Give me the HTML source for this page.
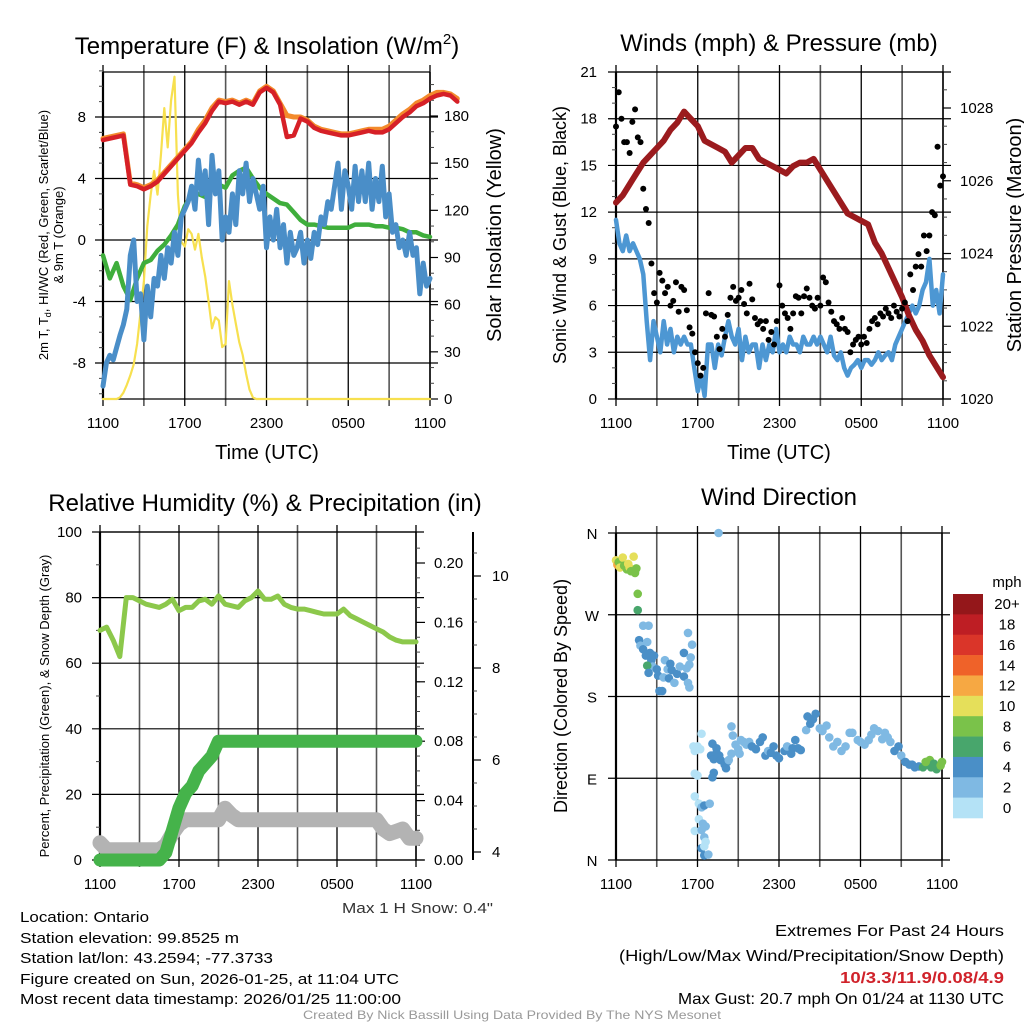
<!DOCTYPE html>
<html><head><meta charset="utf-8"><style>
html,body{margin:0;padding:0;background:#fff;}
svg{display:block;font-family:"Liberation Sans",sans-serif;}
</style></head><body>
<svg id="svg" width="1024" height="1024" viewBox="0 0 1024 1024" xmlns="http://www.w3.org/2000/svg"></svg>
<script>
// ---------- DATA ----------
const timeTicks = ["1100","1700","2300","0500","1100"];
// Panel 1 (30-min steps, 0..24h)
const temp2m = [6.5,6.6,6.7,6.8,3.6,3.5,3.3,3.5,3.8,4.3,4.8,5.3,5.8,6.3,7.0,7.6,8.4,9.0,8.9,9.0,8.8,9.0,8.8,9.6,9.9,9.6,8.8,6.7,6.8,7.9,7.7,7.3,7.1,7.0,6.9,6.8,6.8,6.9,7.0,7.1,7.0,7.0,7.2,7.6,8.0,8.3,8.7,8.9,9.2,9.4,9.5,9.4,9.0];
const temp9m = [6.6,6.7,6.8,6.9,3.7,3.6,3.4,3.6,3.9,4.4,4.9,5.4,5.9,6.4,7.2,7.8,8.6,9.1,9.0,9.1,8.9,9.1,8.9,9.7,10.0,9.7,8.9,8.1,8.0,8.0,7.8,7.4,7.2,7.1,7.0,6.9,6.9,7.0,7.1,7.2,7.2,7.2,7.4,7.8,8.2,8.5,8.9,9.1,9.4,9.6,9.6,9.5,9.2];
const dewpoint = [-1,-2.5,-1.5,-3,-3.9,-2.5,-1.5,-1.3,-0.7,-0.3,0.3,1.0,2.2,2.9,3.0,2.8,3.5,3.6,3.4,4.2,4.5,4.7,4.0,3.4,3.0,2.7,2.4,2.3,1.8,1.3,1.0,1.0,0.9,0.8,0.8,0.8,0.8,1.0,1.0,1.0,0.9,0.9,0.8,0.8,0.7,0.5,0.5,0.3,0.2];
// 15-min steps
const windChill = [-9.5,-8,-7.5,-7.8,-7,-6.2,-5.5,-4.5,-1,0,-4,-3.5,-6.5,-3,-5,-2.5,-3,-1,-2.5,-0.5,-1.5,0.5,-1,1.5,2.0,2.5,3.5,2.0,5.2,3,4.5,1,5.5,3,4.5,0,1.5,0.5,3.0,1.0,4.5,3.0,5.0,2.5,4.0,3.0,2.0,3.5,-0.5,1.5,0,2.0,-0.5,1.0,-1.5,0.5,-1.0,-0.5,0.5,-1.5,0,-1.2,0.5,-0.3,1.5,1.0,2.5,2.0,3.5,5.0,2.0,4.5,3.5,2.0,4.8,2.5,4.5,2.5,5.0,2.0,4.0,2.5,4.8,1.5,3.0,0.5,1.0,-0.5,0,-1.0,0.5,-1.0,-0.5,-3.5,-1.5,-3.0,-2.5];
const solar = [0,0,0,0,0,1,4,9,15,22,35,55,75,110,130,145,130,155,185,160,190,205,130,100,97,108,105,95,105,90,78,62,45,52,50,33,35,75,60,48,36,28,16,6,1,0,0,0,0,0,0,0,0,0,0,0,0,0,0,0,0,0,0,0,0,0,0,0,0,0,0,0,0,0,0,0,0,0,0,0,0,0,0,0,0,0,0,0,0,0,0,0,0,0,0,0,0];
// Panel 2
const sonicWind = [11.5,10,9.5,10.5,9.5,10,9.5,9,8,5,2.5,5,4,3,5,3.5,4.5,3,4,3.5,4,3.5,3.5,2,0.5,1.5,0.2,3.5,3.5,2,3.5,2.8,4,5,4,3.5,4.5,2.5,4,3,3.5,3.5,2,3.5,2.5,3.5,3,4.5,3,3.5,3,4,3.5,3.5,3,4,3.5,3.5,4,3.5,4,3.5,3,4,2.8,2.5,3,2,1.5,2,2.2,2.5,2,2.5,2.5,2.2,2.5,3,2.5,2.8,3,2.5,3.5,4,4.5,5,5.5,6,5.5,6,7,7.5,9,6,7,5.5,8];
const gust = [17.5,19.7,18,16.5,16.5, 15.8,17.8,18.6,16.8,16.5, 13.5,12.2,11.3,8.7,6.8, 6.2,8.1,7.6,6.8,7.2, 6,6.3,7.5,5.6,7.2, 7,5.7,4.6,4.2,3, 2.3,1.5,2,5.5,6.8, 5.4,5.3,4,3.2,4.5, 4,5.4,6.5,7.2,6.3, 6.5,7,6.1,5.5,7.4, 6.4,5.2,4.8,5,4.5, 5,3.8,4.3,3.5,5, 7.3,6,5.5,5.2,4.5, 5.5,6.6,6.5,5.5,6.6, 7.1,6.5,6,5.8,6.5, 6,7.8,7.5,6.2,5.6, 5,4.8,4.5,5.2,4.5, 4.3,3,3.5,3.8,4, 3.5,4,3.6,4.5,5, 5.2,4.8,5.5,5.3,5.8, 5.5,5.2,6,5.6,5.3, 5.8,6.2,5,8,7, 8.5,9.3,8.5,10.5,9.5, 10.5,12,11.8,16.2,13.7, 14.3];
const pressure = [1025.4,1025.6,1025.9,1026.2,1026.5,1026.7,1026.9,1027.1,1027.4,1027.6,1027.9,1027.7,1027.5,1027.1,1027.0,1026.9,1026.8,1026.5,1026.7,1026.9,1026.9,1026.6,1026.5,1026.4,1026.3,1026.2,1026.4,1026.5,1026.5,1026.6,1026.3,1026.0,1025.7,1025.4,1025.1,1025.0,1024.9,1024.8,1024.3,1024.0,1023.6,1023.2,1022.8,1022.3,1021.9,1021.6,1021.2,1020.9,1020.6];
// Panel 3 (30-min steps)
const rh = [70,71,67,62,80,80,79,78,77.5,77,78,79.5,76,77,77,79,79.5,78,80.5,78,77.5,77,79,80,82,79.5,79.5,80.5,78,77,76.5,76.5,76,75.5,75,75,75,76.5,74.5,73.5,72.5,71.5,70.5,69.5,68,67,66.5,66.5,66.5];
const precip = [0,0,0,0,0,0,0,0,0,0,0.005,0.02,0.035,0.045,0.05,0.06,0.065,0.07,0.08,0.08,0.08,0.08,0.08,0.08,0.08,0.08,0.08,0.08,0.08,0.08,0.08,0.08,0.08,0.08,0.08,0.08,0.08,0.08,0.08,0.08,0.08,0.08,0.08,0.08,0.08,0.08,0.08,0.08,0.08];
const snowDepth = [4.2,4.05,4.05,4.05,4.05,4.05,4.05,4.05,4.05,4.05,4.15,4.4,4.6,4.7,4.7,4.7,4.7,4.7,4.7,4.95,4.8,4.7,4.7,4.7,4.7,4.7,4.7,4.7,4.7,4.7,4.7,4.7,4.7,4.7,4.7,4.7,4.7,4.7,4.7,4.7,4.7,4.7,4.7,4.5,4.4,4.45,4.5,4.3,4.3];
// Panel 4: wind direction points
const dirHours = [0,0.1,0.2,0.3,0.5,0.6,0.8,0.9,1.0,1.1,1.3,1.4,1.5,1.6,1.6,1.7,1.8,2.0,2.0,2.2,2.3,2.4,2.5,2.6,2.7,2.8,2.3,2.4,3.0,3.1,3.2,3.4,3.5,3.6,3.8,3.9,4.0,4.1,4.3,4.5,4.7,5.0,5.2,5.4,5.5,5.0,5.3,5.4,5.3,5.6,5.7,5.8,6.0,6.3,6.2,5.8,6.0,5.8,6.1,6.3,6.5,6.1,5.8,6.4,6.6,6.5,6.3,6.3,6.5,6.6,6.5,6.8,6.9,7.55,7.1,7.2,7.1,7.0,7.2,7.4,7.5,7.6,7.4,7.7,8.0,8.1,8.2,8.3,8.5,8.8,9.0,8.6,8.5,9.2,9.1,9.4,9.6,9.8,10.0,10.3,10.6,10.8,11.0,11.2,11.4,11.6,11.8,12.0,12.4,12.6,12.9,13.0,13.2,13.4,13.6,14.0,14.1,14.3,14.5,14.7,15.0,15.2,15.5,15.7,16.0,16.3,16.6,16.9,17.2,17.4,17.8,18.0,18.3,18.6,18.8,19.0,19.3,19.6,19.8,20.0,20.2,20.5,20.8,21.0,21.3,21.6,21.8,22.0,22.3,22.6,22.9,23.1,23.4,23.6,23.9,24.0,23.2,22.8];
const dirDegrees = [330,325,328,322,333,324,320,326,322,318,334,316,321,293,275,242,236,258,232,225,240,258,228,220,213,225,214,206,210,203,186,186,201,220,210,200,216,209,195,205,213,228,211,215,223,202,195,190,250,237,125,120,125,139,122,95,93,70,62,58,60,45,32,40,37,25,33,13,15,20,5,6,62,360,91,96,128,115,111,118,112,115,123,110,105,101,108,110,117,127,122,137,147,132,117,130,127,130,125,122,130,135,115,120,118,125,115,112,120,125,117,123,132,123,121,143,158,150,155,161,145,142,148,135,125,130,120,125,140,140,132,130,127,132,138,145,142,133,140,135,130,120,125,115,108,105,105,102,103,102,105,110,106,100,104,108,102,108];
const dirSpeeds = [11,12,9,10,10,9,8,10,10,9,10,8,8,8,6,4,3,2,4,4,2,2,4,4,3,4,6,4,4,4,4,4,3,2,3,4,4,4,2,4,2,4,2,2,2,4,2,2,2,2,0,1,1,1,1,1,1,1,1,2,4,1,1,2,2,2,2,4,1,1,4,2,2,2,4,4,4,4,4,4,4,4,4,4,4,4,4,2,2,2,2,2,2,2,2,2,2,2,4,4,4,4,4,2,4,4,4,4,4,2,4,4,4,4,4,2,4,4,4,4,2,2,2,2,2,2,2,2,2,2,2,2,2,2,2,2,2,2,2,2,2,4,4,2,4,4,4,4,4,6,6,8,6,6,8,8,6,8,4];
const speedLabels = ["20+","18","16","14","12","10","8","6","4","2","0"];
const speedColors = ["#b4e2f6","#7fb9e3","#4a8fc7","#48a66c","#7ac24a","#e5df5a","#f6a843","#ef6229","#da3529","#be1e24","#94171a"];
const leftTicks1 = [-8,-4,0,4,8];
const rightTicks1 = [0,30,60,90,120,150,180];
const leftTicks2 = [0,3,6,9,12,15,18,21];
const rightTicks2 = [1020,1022,1024,1026,1028];
const leftTicks3 = [0,20,40,60,80,100];
const precipTicks = [0,0.04,0.08,0.12,0.16,0.20];
const snowTicks = [4,6,8,10];
const dirLabels = ["N","W","S","E","N"];

// ---------- HELPERS ----------
const NS = "http://www.w3.org/2000/svg";
const svg = document.getElementById("svg");
function mk(tag, attrs, parent){
  const e = document.createElementNS(NS, tag);
  for (const k in attrs) e.setAttribute(k, attrs[k]);
  (parent||svg).appendChild(e);
  return e;
}
function txt(str, x, y, size, anchor, parent, extra){
  const a = {x:x, y:y, "font-size":size, "text-anchor":anchor||"middle", fill:"#000"};
  if (extra) for (const k in extra) a[k]=extra[k];
  const t = mk("text", a, parent);
  t.textContent = str;
  return t;
}
function linear(d0,d1,r0,r1){ return v => r0 + (v-d0)*(r1-r0)/(d1-d0); }

function frame(name, x0, x1, y0, y1){
  const g = mk("g", {});
  
  
  for (let i=0;i<=8;i++){
    const x = x0 + (x1-x0)*i/8;
    const l = mk("line", {x1:x,x2:x,y1:y0-7,y2:y1+7,stroke:(i%2?"#555":"#000"),"stroke-width":(i%2?1.6:1.3)}, g);
    
    
  }
  const top = mk("line",{x1:x0,x2:x1,y1:y0,y2:y0,stroke:"#000","stroke-width":1.3},g);
  
  
  const left = mk("line",{x1:x0,x2:x0,y1:y0,y2:y1,stroke:"#000","stroke-width":2.2},g);
  
  
  const right = mk("line",{x1:x1,x2:x1,y1:y0,y2:y1,stroke:"#000","stroke-width":1.5},g);
  
  
  const bot = mk("line",{x1:x0,x2:x1,y1:y1,y2:y1,stroke:"#000","stroke-width":1.3},g);
  
  
  timeTicks.forEach((lab,i)=>{
    const t = txt(lab, x0+(x1-x0)*i/4, y1+29, 15, "middle", g);
    
    
  });
  return g;
}
function hgrid(g, ys, x0, x1){
  ys.forEach(y=>{
    const l = mk("line",{x1:x0-8,x2:x1+8,y1:y,y2:y,stroke:"#000","stroke-width":1.2},g);
    
    
  });
}
function minorTicks(g, ys, x, dir){
  ys.forEach(y=>{
    const l = mk("line",{x1:x,x2:x+dir*4,y1:y,y2:y,stroke:"#444","stroke-width":1},g);
    
    
  });
}
function poly(g, vals, step, xs, ys, color, w, name){
  const pts = vals.map((v,i)=> xs(i*step).toFixed(1)+","+ys(v).toFixed(1)).join(" ");
  const p = mk("polyline",{points:pts,fill:"none",stroke:color,"stroke-width":w,"stroke-linejoin":"round","stroke-linecap":"round"},g);
  
  
  return p;
}

// ---------- PANEL 1 ----------
(function(){
  const x0=103,x1=430,y0=72,y1=399;
  const g = frame("temperature-panel",x0,x1,y0,y1);
  const xs = linear(0,24,x0,x1);
  const yT = linear(0,8,240,117);
  const yS = linear(0,180,399,116);
  hgrid(g, leftTicks1.map(yT), x0, x1);
  const mt=[]; for(let v=-10;v<=11;v++) if(v%4) mt.push(yT(v));
  minorTicks(g, mt, x0, -1);
  const mr=[]; for(let v=10;v<=200;v+=10) if(v%30) mr.push(yS(v));
  minorTicks(g, mr, x1, 1);
  rightTicks1.forEach(v=>{ const l=mk("line",{x1:x1,x2:x1+8,y1:yS(v),y2:yS(v),stroke:"#000","stroke-width":1.2},g);  });
  leftTicks1.forEach(v=>{ const t=txt(String(v), 86, yT(v)+5, 15, "end", g);  });
  rightTicks1.forEach(v=>{ const t=txt(String(v), 444, yS(v)+5, 15, "start", g);  });
  poly(g, solar, 0.25, xs, yS, "#f7e04f", 2.2, "solar-insolation-line");
  poly(g, dewpoint, 0.5, xs, yT, "#3fae3c", 4.5, "dewpoint-line");
  poly(g, windChill, 0.25, xs, yT, "#4a8ec8", 5, "wind-chill-line");
  poly(g, temp9m, 0.5, xs, yT, "#f38a2c", 5, "temp-9m-line");
  poly(g, temp2m, 0.5, xs, yT, "#d62027", 4.5, "temp-2m-line");
  const t1=mk("text",{x:267,y:54,"font-size":24,"text-anchor":"middle",fill:"#000"},g);
  t1.innerHTML='Temperature (F) &amp; Insolation (W/m<tspan font-size="15" dy="-10">2</tspan><tspan dy="10">)</tspan>';
   
  const xt=txt("Time (UTC)", 267, 459, 20, "middle", g);  
  const ya=mk("text",{x:0,y:0,"font-size":13,"text-anchor":"middle",transform:"translate(48,235) rotate(-90)"},g);
  ya.innerHTML='2m T, T<tspan font-size="9" dy="3">d</tspan><tspan dy="-3">, HI/WC (Red, Green, Scarlet/Blue)</tspan>';
   
  const ya2=txt("& 9m T (Orange)",0,0,13,"middle",g,{transform:"translate(63,235) rotate(-90)"});
   
  const yr=txt("Solar Insolation (Yellow)",0,0,20,"middle",g,{transform:"translate(501,235) rotate(-90)"});
   
})();

// ---------- PANEL 2 ----------
(function(){
  const x0=616,x1=943,y0=72,y1=399;
  const g = frame("winds-panel",x0,x1,y0,y1);
  const xs = linear(0,24,x0,x1);
  const yW = linear(0,21,399,72);
  const yP = linear(1020,1028,399,108);
  hgrid(g, leftTicks2.map(yW), x0, x1);
  const mr=[]; for(let v=1020.5;v<1029;v+=0.5) if(v%2) mr.push(yP(v));
  minorTicks(g, mr, x1, 1);
  const ml=[]; for(let v=1;v<21;v++) if(v%3) ml.push(yW(v));
  minorTicks(g, ml, x0, -1);
  rightTicks2.forEach(v=>{ const l=mk("line",{x1:x1,x2:x1+8,y1:yP(v),y2:yP(v),stroke:"#000","stroke-width":1.2},g);  });
  leftTicks2.forEach(v=>{ const t=txt(String(v), 597, yW(v)+5, 15, "end", g);  });
  rightTicks2.forEach(v=>{ const t=txt(String(v), 960, yP(v)+5, 15, "start", g);  });
  poly(g, sonicWind, 0.25, xs, yW, "#4d97d3", 4.5, "sonic-wind-line");
  poly(g, pressure, 0.5, xs, yP, "#9b1b1e", 6, "pressure-line");
  gust.forEach((v,i)=>{
    const c=mk("circle",{cx:xs(i*0.2),cy:yW(v),r:3,fill:"#000"},g);
    
    
  });
  const t=txt("Winds (mph) & Pressure (mb)", 779, 51, 24, "middle", g);  
  const xt=txt("Time (UTC)", 779, 459, 20, "middle", g);  
  const yl=txt("Sonic Wind & Gust (Blue, Black)",0,0,18,"middle",g,{transform:"translate(566,235) rotate(-90)"});  
  const yr=txt("Station Pressure (Maroon)",0,0,20,"middle",g,{transform:"translate(1021,235) rotate(-90)"});  
})();

// ---------- PANEL 3 ----------
(function(){
  const x0=100,x1=416,y0=532,y1=860;
  const g = frame("humidity-panel",x0,x1,y0,y1);
  const xs = linear(0,24,x0,x1);
  const yR = linear(0,100,860,532);
  const yPr = linear(0,0.2,860,563);
  const ySn = linear(4,10,852,576);
  hgrid(g, leftTicks3.map(yR), x0, x1);
  const ml=[]; for(let v=10;v<100;v+=10) if(v%20) ml.push(yR(v));
  minorTicks(g, ml, x0, -1);
  const mr=[]; for(let v=0.01;v<0.22;v+=0.01) mr.push(yPr(v));
  minorTicks(g, mr, x1, 1);
  precipTicks.forEach(v=>{ const l=mk("line",{x1:x1,x2:x1+9,y1:yPr(v),y2:yPr(v),stroke:"#000","stroke-width":1.2},g);  });
  const sa=mk("line",{x1:473,x2:473,y1:532,y2:860,stroke:"#000","stroke-width":2},g);  
  const ms=[]; for(let v=3.5;v<11;v+=0.5) if(v%2) ms.push(ySn(v));
  minorTicks(g, ms.filter(y=>y>532&&y<860), 473, 1);
  snowTicks.forEach(v=>{ const l=mk("line",{x1:473,x2:481,y1:ySn(v),y2:ySn(v),stroke:"#000","stroke-width":1.2},g);  
    const t=txt(String(v), 492, ySn(v)+5, 15, "start", g);  });
  leftTicks3.forEach(v=>{ const t=txt(String(v), 82, yR(v)+5, 15, "end", g);  });
  precipTicks.forEach(v=>{ const t=txt(v.toFixed(2), 434, yPr(v)+5, 15, "start", g);  });
  poly(g, snowDepth, 0.5, xs, ySn, "#b3b3b3", 15, "snow-depth-line");
  poly(g, precip, 0.5, xs, yPr, "#45b34a", 13, "precip-line");
  poly(g, rh, 0.5, xs, yR, "#8cc84b", 5, "rh-line");
  const t=txt("Relative Humidity (%) & Precipitation (in)", 265, 511, 24, "middle", g);  
  const yl=txt("Percent, Precipitation (Green), & Snow Depth (Gray)",0,0,13,"middle",g,{transform:"translate(49,706) rotate(-90)"});  
  const sn=txt('Max 1 H Snow: 0.4"', 493, 913, 15, "end", g, {textLength:151,lengthAdjust:"spacingAndGlyphs",fill:"#333"});  
})();

// ---------- PANEL 4 ----------
(function(){
  const x0=616,x1=942,y0=533,y1=860;
  const g = frame("wind-direction-panel",x0,x1,y0,y1);
  const xs = linear(0,24,x0,x1);
  const yD = linear(0,360,860,533);
  hgrid(g, [360,270,180,90,0].map(yD), x0, x1);
  dirLabels.forEach((lab,i)=>{ const t=txt(lab, 592, yD(360-i*90)+6, 15, "middle", g);  });
  dirHours.forEach((h,i)=>{
    const bin = Math.min(10, Math.floor(dirSpeeds[i]/2));
    const c=mk("circle",{cx:xs(h),cy:yD(dirDegrees[i]),r:4.3,fill:speedColors[bin]},g);
    
    
  });
  const t=txt("Wind Direction", 779, 505, 24, "middle", g);  
  const yl=txt("Direction (Colored By Speed)",0,0,18,"middle",g,{transform:"translate(567,696) rotate(-90)"});  
  const cb = mk("g",{},g);  
  const rowH = (818-594)/11;
  speedLabels.forEach((lab,i)=>{
    const r=mk("rect",{x:953,y:594+i*rowH,width:30,height:rowH+0.3,fill:speedColors[10-i]},cb);
     
    const tl=txt(lab, 1007, 594+i*rowH+rowH/2+5, 15, "middle", cb);  
  });
  const mph=txt("mph", 1007, 587, 15, "middle", cb);  
})();

// ---------- FOOTER TEXT ----------
(function(){
  const g = mk("g",{});  
  const left = [["Location: Ontario",922,129],["Station elevation: 99.8525 m",943,219],["Station lat/lon: 43.2594; -77.3733",963,253],["Figure created on Sun, 2026-01-25, at 11:04 UTC",984,379],["Most recent data timestamp: 2026/01/25 11:00:00",1004,381]];
  left.forEach(l=>{ const t=txt(l[0],20,l[1],15,"start",g,{textLength:l[2],lengthAdjust:"spacingAndGlyphs"});  });
  const right = [["Extremes For Past 24 Hours",936,229,"#000","normal"],["(High/Low/Max Wind/Precipitation/Snow Depth)",961,385,"#000","normal"],["10/3.3/11.9/0.08/4.9",983,164,"#d0222a","bold"],["Max Gust: 20.7 mph On 01/24 at 1130 UTC",1004,326,"#000","normal"]];
  right.forEach(l=>{ const t=txt(l[0],1004,l[1],16,"end",g,{textLength:l[2],lengthAdjust:"spacingAndGlyphs",fill:l[3],"font-weight":l[4]});  });
  const f=txt("Created By Nick Bassill Using Data Provided By The NYS Mesonet",512,1019,12,"middle",g,{textLength:418,lengthAdjust:"spacingAndGlyphs",fill:"#999"});
   
})();
</script>
</body></html>
